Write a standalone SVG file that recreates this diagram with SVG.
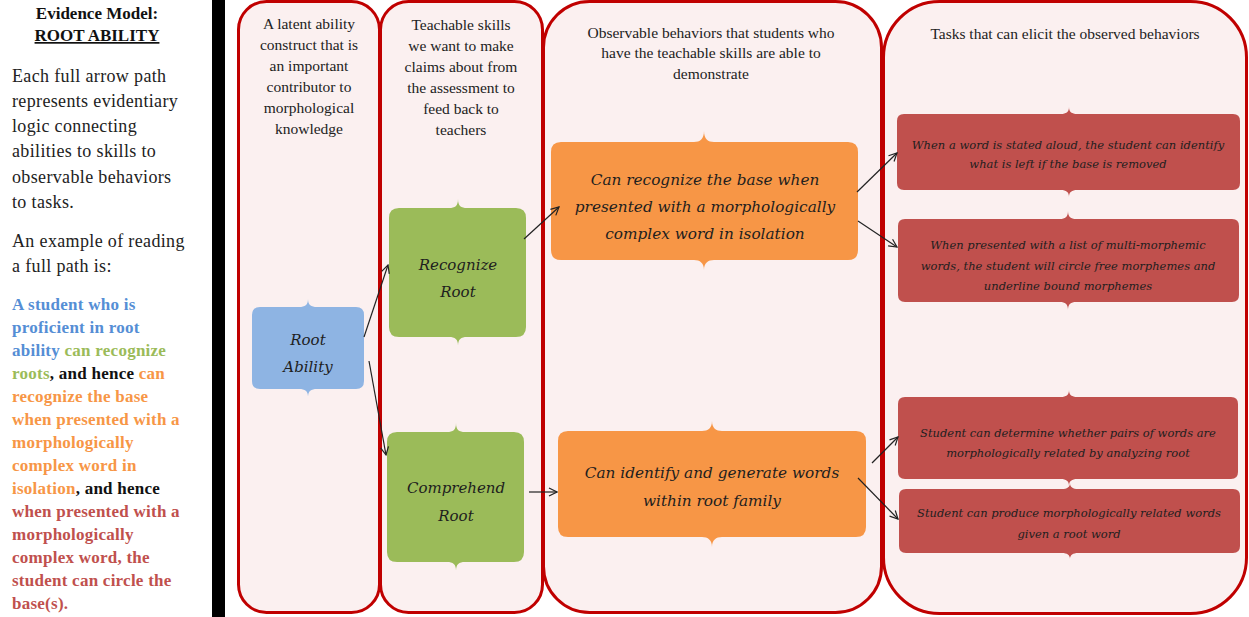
<svg xmlns="http://www.w3.org/2000/svg" width="1249" height="617" viewBox="0 0 1249 617">
<style>
.bg{fill:#ffffff}
.col{fill:#FBF0F0;stroke:#C00000;stroke-width:3}
.hdr{font-family:"Liberation Serif",serif;font-size:15.5px;fill:#222;text-anchor:middle}
.side{font-family:"Liberation Serif",serif;font-size:18px;letter-spacing:0.35px;fill:#222}
.cb{font-family:"Liberation Serif",serif;font-size:17px;letter-spacing:0.25px;font-weight:bold}
.nt{font-family:"DejaVu Serif",serif;font-style:italic;fill:#1e1e1e;text-anchor:middle}
.big{font-size:15px}
.med{font-size:15.3px}
.sm{font-size:11.5px}
.blue{fill:#8EB4E3}
.green{fill:#9BBB59}
.orange{fill:#F79646}
.red{fill:#C0504D}
.conn line{stroke:#222;stroke-width:1.2;marker-end:url(#arr)}
</style>
<defs>
<marker id="arr" viewBox="0 0 10 10" refX="9" refY="5" markerWidth="10" markerHeight="10" markerUnits="userSpaceOnUse" orient="auto">
<path d="M1,1 L9,5 L1,9" fill="none" stroke="#222" stroke-width="1.2"/>
</marker>
</defs>
<rect class="bg" x="0" y="0" width="1249" height="617"/>

<g id="legend">
<text x="97" y="19" text-anchor="middle" font-family="Liberation Serif, serif" font-size="17" font-weight="bold" fill="#111">Evidence Model:</text>
<text x="97" y="41" text-anchor="middle" font-family="Liberation Serif, serif" font-size="17" font-weight="bold" fill="#111" text-decoration="underline">ROOT ABILITY</text>
<text class="side" x="12" y="82">Each full arrow path</text>
<text class="side" x="12" y="107">represents evidentiary</text>
<text class="side" x="12" y="132">logic connecting</text>
<text class="side" x="12" y="157">abilities to skills to</text>
<text class="side" x="12" y="183">observable behaviors</text>
<text class="side" x="12" y="208">to tasks.</text>
<text class="side" x="12" y="247">An example of reading</text>
<text class="side" x="12" y="272">a full path is:</text>
<text class="cb" x="12" y="310" fill="#558ED5">A student who is</text>
<text class="cb" x="12" y="333" fill="#558ED5">proficient in root</text>
<text class="cb" x="12" y="356"><tspan fill="#558ED5">ability</tspan><tspan fill="#9BBB59"> can recognize</tspan></text>
<text class="cb" x="12" y="379"><tspan fill="#9BBB59">roots</tspan><tspan fill="#111">, and hence</tspan><tspan fill="#F79646"> can</tspan></text>
<text class="cb" x="12" y="402" fill="#F79646">recognize the base</text>
<text class="cb" x="12" y="425" fill="#F79646">when presented with a</text>
<text class="cb" x="12" y="448" fill="#F79646">morphologically</text>
<text class="cb" x="12" y="471" fill="#F79646">complex word in</text>
<text class="cb" x="12" y="494"><tspan fill="#F79646">isolation</tspan><tspan fill="#111">, and hence</tspan></text>
<text class="cb" x="12" y="517" fill="#C0504D">when presented with a</text>
<text class="cb" x="12" y="540" fill="#C0504D">morphologically</text>
<text class="cb" x="12" y="563" fill="#C0504D">complex word, the</text>
<text class="cb" x="12" y="586" fill="#C0504D">student can circle the</text>
<text class="cb" x="12" y="609" fill="#C0504D">base(s).</text>
</g>

<rect id="divider" x="212" y="0" width="13" height="617" fill="#000"/>

<g id="columns">
<rect class="col" x="238.5" y="1.5" width="141" height="611" rx="28" ry="28"/>
<rect class="col" x="380.5" y="1.5" width="162" height="611" rx="28" ry="28"/>
<rect class="col" x="543.5" y="1.5" width="338" height="611" rx="46" ry="46"/>
<rect class="col" x="883.5" y="1.5" width="363" height="612" rx="56" ry="56"/>
<text class="hdr" x="309" y="29">A latent ability</text>
<text class="hdr" x="309" y="50">construct that is</text>
<text class="hdr" x="309" y="71">an important</text>
<text class="hdr" x="309" y="92">contributor to</text>
<text class="hdr" x="309" y="113">morphological</text>
<text class="hdr" x="309" y="134">knowledge</text>
<text class="hdr" x="461" y="30">Teachable skills</text>
<text class="hdr" x="461" y="51">we want to make</text>
<text class="hdr" x="461" y="72">claims about from</text>
<text class="hdr" x="461" y="93">the assessment to</text>
<text class="hdr" x="461" y="114">feed back to</text>
<text class="hdr" x="461" y="135">teachers</text>
<text class="hdr" x="711" y="38">Observable behaviors that students who</text>
<text class="hdr" x="711" y="58">have the teachable skills are able to</text>
<text class="hdr" x="711" y="79">demonstrate</text>
<text class="hdr" x="1065" y="39">Tasks that can elicit the observed behaviors</text>
</g>

<g id="node-root-ability">
<path class="blue" d="M260,307 L299,307 C305,307 308,305 308,299 C308,305 311,307 317,307 L356,307 Q364,307 364,315 L364,381 Q364,389 356,389 L317,389 C311,389 308,391 308,397 C308,391 305,389 299,389 L260,389 Q252,389 252,381 L252,315 Q252,307 260,307 Z"/>
<text class="nt big" x="308" y="345">Root</text>
<text class="nt big" x="308" y="372">Ability</text>
</g>

<g id="node-recognize-root">
<path class="green" d="M399,208 L449,208 C455,208 458,206 458,199 C458,206 461,208 467,208 L516,208 Q526,208 526,218 L526,327 Q526,337 516,337 L467,337 C461,337 458,339 458,346 C458,339 455,337 449,337 L399,337 Q389,337 389,327 L389,218 Q389,208 399,208 Z"/>
<text class="nt big" x="458" y="270">Recognize</text>
<text class="nt big" x="458" y="297">Root</text>
</g>

<g id="node-comprehend-root">
<path class="green" d="M397,432 L447,432 C453,432 456,430 456,423 C456,430 459,432 465,432 L514,432 Q524,432 524,442 L524,552 Q524,562 514,562 L465,562 C459,562 456,564 456,571 C456,564 453,562 447,562 L397,562 Q387,562 387,552 L387,442 Q387,432 397,432 Z"/>
<text class="nt big" x="456" y="493">Comprehend</text>
<text class="nt big" x="456" y="521">Root</text>
</g>

<g id="node-recognize-base">
<path class="orange" d="M561,142 L694,142 C700,142 704,139 704,131 C704,139 708,142 714,142 L848,142 Q858,142 858,152 L858,250 Q858,260 848,260 L714,260 C708,260 704,263 704,270 C704,263 700,260 694,260 L561,260 Q551,260 551,250 L551,152 Q551,142 561,142 Z"/>
<text class="nt med" x="705" y="185">Can recognize the base when</text>
<text class="nt med" x="705" y="212">presented with a morphologically</text>
<text class="nt med" x="705" y="239">complex word in isolation</text>
</g>

<g id="node-identify-generate">
<path class="orange" d="M568,431 L702,431 C708,431 712,428 712,421 C712,428 716,431 722,431 L856,431 Q866,431 866,441 L866,527 Q866,537 856,537 L722,537 C716,537 712,540 712,547 C712,540 708,537 702,537 L568,537 Q558,537 558,527 L558,441 Q558,431 568,431 Z"/>
<text class="nt med" x="712" y="478">Can identify and generate words</text>
<text class="nt med" x="712" y="506">within root family</text>
</g>

<g id="task-1">
<path class="red" d="M904,114 L1061,114 C1066,114 1069,112 1069,107 C1069,112 1072,114 1077,114 L1233,114 Q1240,114 1240,121 L1240,183 Q1240,190 1233,190 L1077,190 C1072,190 1069,192 1069,197 C1069,192 1066,190 1061,190 L904,190 Q897,190 897,183 L897,121 Q897,114 904,114 Z"/>
<text class="nt sm" x="1068" y="149">When a word is stated aloud, the student can identify</text>
<text class="nt sm" x="1068" y="168">what is left if the base is removed</text>
</g>

<g id="task-2">
<path class="red" d="M905,219 L1060,219 C1065,219 1068,217 1068,211 C1068,217 1071,219 1076,219 L1232,219 Q1239,219 1239,226 L1239,295 Q1239,302 1232,302 L1076,302 C1071,302 1068,304 1068,310 C1068,304 1065,302 1060,302 L905,302 Q898,302 898,295 L898,226 Q898,219 905,219 Z"/>
<text class="nt sm" x="1068" y="249">When presented with a list of multi-morphemic</text>
<text class="nt sm" x="1068" y="270">words, the student will circle free morphemes and</text>
<text class="nt sm" x="1068" y="290">underline bound morphemes</text>
</g>

<g id="task-3">
<path class="red" d="M905,397 L1061,397 C1066,397 1069,395 1069,390 C1069,395 1072,397 1077,397 L1231,397 Q1238,397 1238,404 L1238,472 Q1238,479 1231,479 L1077,479 C1072,479 1069,481 1069,486 C1069,481 1066,479 1061,479 L905,479 Q898,479 898,472 L898,404 Q898,397 905,397 Z"/>
<text class="nt sm" x="1068" y="437">Student can determine whether pairs of words are</text>
<text class="nt sm" x="1068" y="457">morphologically related by analyzing root</text>
</g>

<g id="task-4">
<path class="red" d="M906,489 L1062,489 C1067,489 1070,487 1070,483 C1070,487 1073,489 1078,489 L1233,489 Q1240,489 1240,496 L1240,546 Q1240,553 1233,553 L1078,553 C1073,553 1070,555 1070,559 C1070,555 1067,553 1062,553 L906,553 Q899,553 899,546 L899,496 Q899,489 906,489 Z"/>
<text class="nt sm" x="1069" y="517">Student can produce morphologically related words</text>
<text class="nt sm" x="1069" y="538">given a root word</text>
</g>

<g id="connectors" class="conn">
<line x1="364" y1="337" x2="388" y2="265"/>
<line x1="369" y1="361" x2="386" y2="455"/>
<line x1="524" y1="239" x2="559" y2="207"/>
<line x1="529" y1="492" x2="557" y2="492"/>
<line x1="857" y1="192" x2="897" y2="153"/>
<line x1="858" y1="221" x2="897" y2="247"/>
<line x1="872" y1="463" x2="898" y2="437"/>
<line x1="858" y1="478" x2="898" y2="519"/>
</g>
</svg>
